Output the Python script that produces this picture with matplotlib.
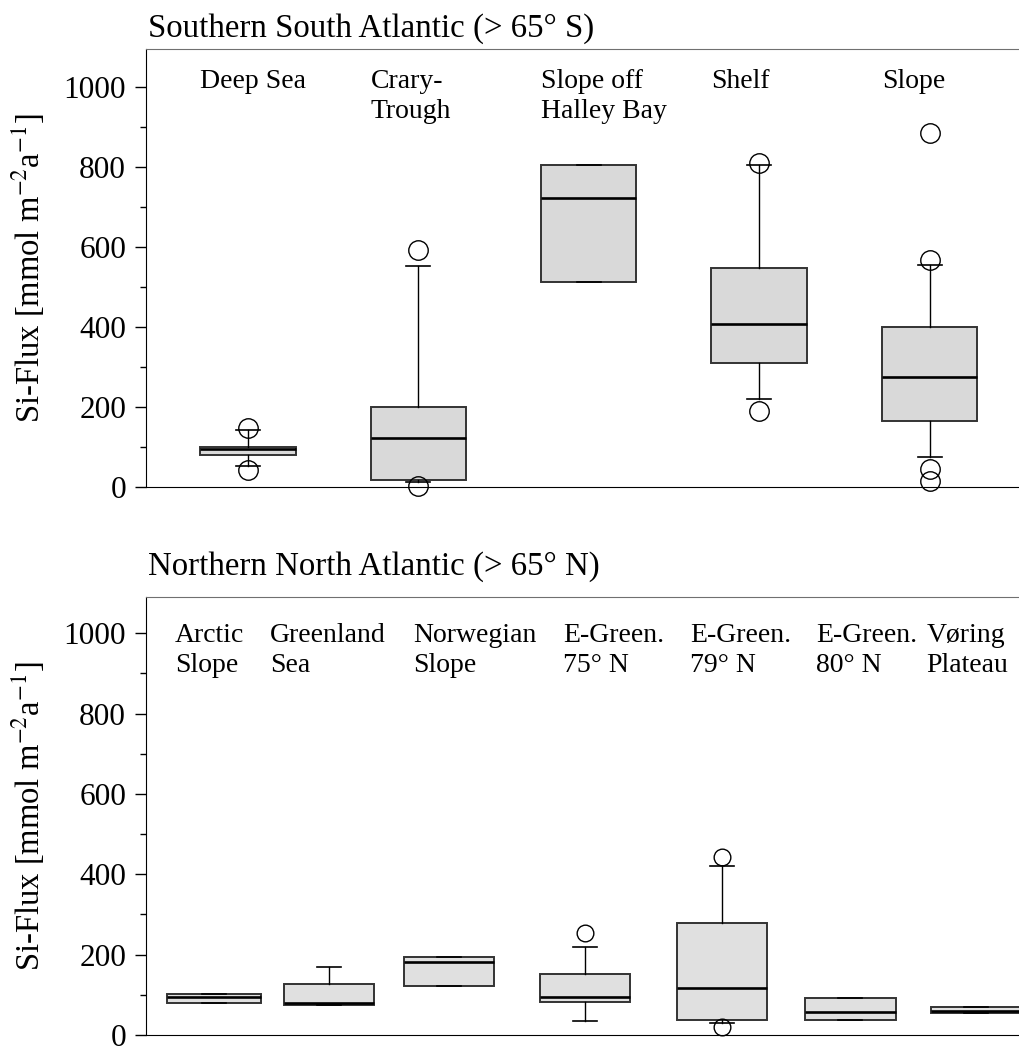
import matplotlib.pyplot as plt
from matplotlib.ticker import MultipleLocator

plt.rcParams['font.family'] = ['Liberation Serif', 'DejaVu Serif']
plt.rcParams['mathtext.fontset'] = 'stix'

# Southern South Atlantic (> 65 S)
south_labels = ["Deep Sea", "Crary-\nTrough", "Slope off\nHalley Bay", "Shelf", "Slope"]
south_q1 = [81, 18, 514, 311, 165]
south_med = [95, 123, 722, 408, 276]
south_q3 = [102, 200, 806, 548, 401]
south_whislo = [53, 14, 514, 221, 75]
south_whishi = [144, 554, 806, 806, 556]
south_fliers = [[148, 43], [594, 4], [], [810, 192], [885, 567, 47, 17]]

# Northern North Atlantic (> 65 N)
north_labels = ["Arctic\nSlope", "Greenland\nSea", "Norwegian\nSlope", "E-Green.\n75° N",
                "E-Green.\n79° N", "E-Green.\n80° N", "Vøring\nPlateau"]
north_q1 = [79, 75, 122, 81, 37, 38, 54]
north_med = [94, 80, 182, 94, 117, 57, 61]
north_q3 = [102, 128, 193, 152, 279, 91, 69]
north_whislo = [79, 74, 122, 34, 29, 38, 54]
north_whishi = [102, 170, 193, 220, 421, 91, 69]
north_fliers = [[], [], [], [254], [444, 19], [], []]

# layout (x positions in axis units)
south_pos = [1, 2, 3, 4, 5]
south_label_x = [0.72, 1.72, 2.72, 3.72, 4.72]
north_pos = [0.80, 1.478, 2.182, 2.979, 3.782, 4.535, 5.27]
north_widths = [0.55, 0.53, 0.53, 0.53, 0.53, 0.53, 0.53]
north_label_x = [0.572, 1.13, 1.968, 2.848, 3.593, 4.332, 4.981]


def make_stats(q1, med, q3, lo, hi, fl):
    out = []
    for i in range(len(q1)):
        out.append(dict(q1=q1[i], med=med[i], q3=q3[i], whislo=lo[i], whishi=hi[i], fliers=fl[i]))
    return out


def draw_panel(ax, stats, pos, widths, face, ymax, labels, label_x, label_y, ms):
    res = ax.bxp(stats, positions=pos, widths=widths, capwidths=0.14, patch_artist=True,
                 boxprops=dict(facecolor=face, edgecolor='#333333', linewidth=1.4),
                 medianprops=dict(color='black', linewidth=1.9),
                 whiskerprops=dict(color='black', linewidth=1),
                 capprops=dict(color='black', linewidth=1.2),
                 flierprops=dict(marker='o', markerfacecolor='none', markeredgecolor='black',
                                 markersize=ms, markeredgewidth=1),
                 manage_ticks=False)
    for f in res['fliers']:
        f.set_clip_on(False)
    ax.set_xlim(0.4, 5.6)
    ax.set_ylim(0, ymax)
    ax.set_xticks([])
    ax.set_yticks(range(0, 1001, 200))
    ax.yaxis.set_minor_locator(MultipleLocator(100))
    ax.tick_params(axis='y', which='major', length=8, width=1, labelsize=22.5, pad=6)
    ax.tick_params(axis='y', which='minor', length=4, width=1)
    ax.spines['right'].set_visible(False)
    ax.spines['top'].set_color('#707070')
    for x, lab in zip(label_x, labels):
        ax.text(x, label_y, lab, ha='left', va='top', fontsize=20, linespacing=1.25)
    ax.set_ylabel("Si-Flux [mmol m$^{-2}$a$^{-1}$]", fontsize=23.5)
    ax.yaxis.set_label_coords(-0.111, 0.5)


fig = plt.figure(figsize=(10.2, 10.46), dpi=100)
ax1 = fig.add_axes([0.1427, 0.534, 0.869, 0.4192])
ax2 = fig.add_axes([0.1427, 0.0105, 0.869, 0.4188])

draw_panel(ax1, make_stats(south_q1, south_med, south_q3, south_whislo, south_whishi, south_fliers),
           south_pos, 0.56, '#d9d9d9', 1095, south_labels, south_label_x, 1044, 14)
draw_panel(ax2, make_stats(north_q1, north_med, north_q3, north_whislo, north_whishi, north_fliers),
           north_pos, north_widths, '#e0e0e0', 1090, north_labels, north_label_x, 1025, 12)

fig.text(148 / 1020, 1 - 37 / 1046, "Southern South Atlantic (> 65° S)", fontsize=23.7,
         ha='left', va='baseline')
fig.text(148 / 1020, 1 - 575 / 1046, "Northern North Atlantic (> 65° N)", fontsize=23.7,
         ha='left', va='baseline')

fig.savefig('out.png', dpi=100)
